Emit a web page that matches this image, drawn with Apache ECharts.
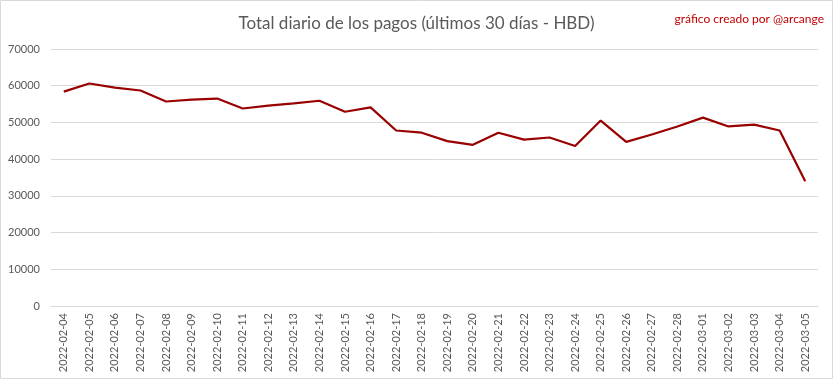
<!DOCTYPE html>
<html>
<head>
<meta charset="utf-8">
<script src="https://cdn.jsdelivr.net/npm/echarts@6/dist/echarts.min.js"></script>
<style>
html,body{margin:0;padding:0;background:#fff;}
#c{width:833px;height:379px;}
</style>
</head>
<body>
<div id="c"></div>
<script>
const titleText = "Total diario de los pagos (últimos 30 días - HBD)";
const creditText = "gráfico creado por @arcange";
const dates = ["2022-02-04","2022-02-05","2022-02-06","2022-02-07","2022-02-08","2022-02-09","2022-02-10","2022-02-11","2022-02-12","2022-02-13","2022-02-14","2022-02-15","2022-02-16","2022-02-17","2022-02-18","2022-02-19","2022-02-20","2022-02-21","2022-02-22","2022-02-23","2022-02-24","2022-02-25","2022-02-26","2022-02-27","2022-02-28","2022-03-01","2022-03-02","2022-03-03","2022-03-04","2022-03-05"];
const payments = [58400,60600,59500,58700,55700,56200,56500,53800,54600,55200,55900,52900,54100,47800,47200,44900,43900,47200,45300,45900,43600,50500,44700,46700,48900,51300,48900,49400,47800,34000];
const yTicks = {min:0, max:70000, interval:10000};

const chart = echarts.init(document.getElementById('c'), null, {renderer:'canvas'});
chart.setOption({
  animation:false,
  backgroundColor:'#ffffff',
  title:[
    {text:titleText, left:'center', top:10, textStyle:{fontFamily:'Lato, "Open Sans", sans-serif', fontSize:17, fontWeight:'normal', color:'#595959'}},
    {text:creditText, right:4, top:8, textStyle:{fontFamily:'Lato, "Open Sans", sans-serif', fontSize:12, fontWeight:'normal', color:'#c00000'}}
  ],
  graphic:[{type:'rect', shape:{x:0.5,y:0.5,width:832,height:378}, style:{fill:'none', stroke:'#d9d9d9', lineWidth:1}, silent:true}],
  grid:{left:51, right:15, top:49, bottom:73, containLabel:false},
  xAxis:{
    type:'category', data:dates, boundaryGap:true,
    axisLine:{show:true, lineStyle:{color:'#d9d9d9'}},
    axisTick:{show:false},
    axisLabel:{interval:0, rotate:90, color:'#595959', fontSize:11, margin:7, fontFamily:'Lato, "Open Sans", sans-serif'}
  },
  yAxis:{
    type:'value', min:yTicks.min, max:yTicks.max, interval:yTicks.interval,
    axisLine:{show:false}, axisTick:{show:false},
    splitLine:{lineStyle:{color:'#d9d9d9', width:1}},
    axisLabel:{color:'#595959', fontSize:11, margin:11, fontFamily:'Lato, "Open Sans", sans-serif', formatter:function(v){return String(v);}}
  },
  series:[{
    type:'line', data:payments, symbol:'none',
    lineStyle:{color:'#990000', width:2.2},
    itemStyle:{color:'#990000'}
  }]
});
</script>
</body>
</html>
